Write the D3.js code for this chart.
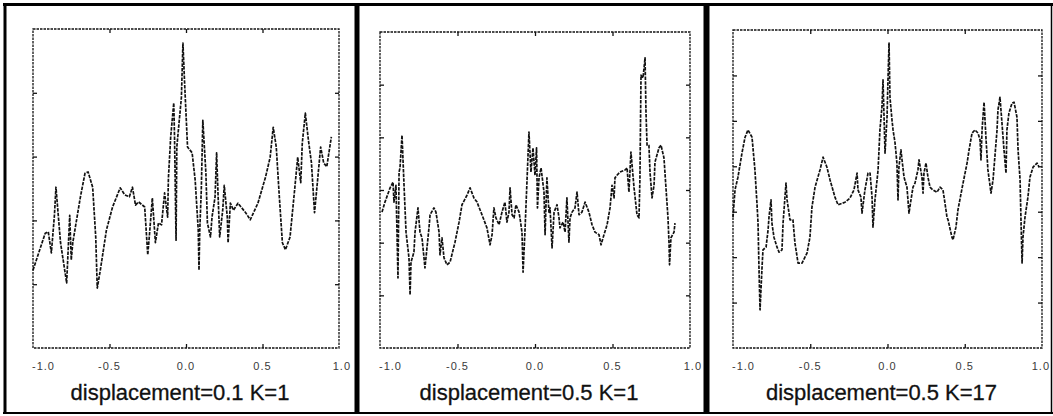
<!DOCTYPE html>
<html>
<head>
<meta charset="utf-8">
<script src="https://cdn.jsdelivr.net/npm/d3@7/dist/d3.min.js"></script>
<style>
  html, body { margin: 0; padding: 0; background: #fff; }
  svg { display: block; }
  .tick-label { font-family: "Liberation Sans", Arial, sans-serif; font-size: 11px; fill: #3a3a3a; letter-spacing: 1px; }
  .title { font-family: "Liberation Sans", Arial, sans-serif; font-size: 22px; fill: #111; stroke: #111; stroke-width: 0.3px; }
</style>
</head>
<body>
<svg id="chart" width="1053" height="416"></svg>
<script>
// Shared x axis: ticks and their labels
const xTicks = [-1, -0.5, 0, 0.5, 1];
const xTickLabels = ["-1.0", "-0.5", "0.0", "0.5", "1.0"];

// Panel titles
const titles = ["displacement=0.1 K=1", "displacement=0.5 K=1", "displacement=0.5 K=17"];

// Number of y intervals in each panel (unlabelled ticks)
const yMax = [5, 6, 7];

// Panel 1: displacement=0.1, K=1
const p1X = [-1.00,-0.92,-0.90,-0.88,-0.86,-0.85,-0.82,-0.78,-0.76,-0.75,-0.74,-0.69,-0.66,-0.64,-0.61,-0.59,-0.58,-0.56,-0.52,-0.48,
  -0.43,-0.40,-0.37,-0.35,-0.33,-0.31,-0.27,-0.25,-0.24,-0.22,-0.20,-0.18,-0.16,-0.14,-0.12,-0.115,-0.10,-0.08,-0.075,-0.065,
  -0.06,-0.03,-0.02,-0.01,0.01,0.04,0.06,0.08,0.085,0.09,0.10,0.11,0.13,0.14,0.16,0.17,0.19,0.20,0.21,0.22,
  0.24,0.25,0.27,0.275,0.29,0.31,0.34,0.39,0.42,0.47,0.52,0.55,0.57,0.59,0.61,0.63,0.65,0.68,0.71,0.73,
  0.75,0.76,0.78,0.80,0.82,0.84,0.86,0.88,0.90,0.92,0.95];
const p1Y = [1.22,1.80,1.82,1.49,2.08,2.52,1.65,1.02,2.08,1.38,1.65,2.37,2.74,2.76,2.52,1.74,0.94,1.22,1.85,2.21,
  2.51,2.40,2.37,2.52,2.24,2.29,2.21,1.46,1.74,2.35,1.65,1.96,1.93,2.43,2.05,2.66,3.31,3.84,3.31,1.69,
  3.15,3.93,4.78,4.20,3.15,3.06,2.63,1.85,1.22,1.85,2.48,3.57,2.74,1.96,1.74,2.05,2.37,3.06,2.37,1.74,
  2.16,2.55,2.05,1.65,2.27,2.16,2.27,2.12,2.01,2.27,2.68,2.99,3.46,3.15,2.37,1.65,1.54,1.74,2.48,2.99,
  2.59,3.21,3.68,3.26,2.90,2.12,2.63,3.15,2.90,2.84,3.31];

// Panel 2: displacement=0.5, K=1
const p2X = [-0.987,-0.968,-0.935,-0.916,-0.910,-0.897,-0.884,-0.877,-0.871,-0.858,-0.845,-0.832,-0.813,-0.806,-0.800,-0.781,-0.774,-0.755,-0.742,-0.729,
  -0.716,-0.710,-0.697,-0.684,-0.677,-0.652,-0.639,-0.619,-0.613,-0.600,-0.587,-0.568,-0.548,-0.516,-0.490,-0.471,-0.439,-0.419,-0.394,-0.374,
  -0.342,-0.310,-0.290,-0.277,-0.265,-0.252,-0.232,-0.213,-0.194,-0.181,-0.168,-0.161,-0.148,-0.135,-0.123,-0.103,-0.097,-0.084,-0.077,-0.065,
  -0.039,-0.026,-0.013,0.000,0.010,0.016,0.026,0.039,0.058,0.065,0.071,0.077,0.090,0.097,0.110,0.123,0.142,0.155,0.161,0.181,
  0.194,0.206,0.219,0.226,0.239,0.258,0.271,0.284,0.303,0.323,0.348,0.368,0.387,0.413,0.426,0.445,0.465,0.484,0.497,0.510,
  0.516,0.529,0.548,0.581,0.594,0.606,0.619,0.639,0.658,0.671,0.677,0.684,0.697,0.710,0.716,0.723,0.735,0.742,0.755,0.768,
  0.774,0.800,0.813,0.832,0.845,0.858,0.865,0.868,0.877,0.897,0.903];
const p2Y = [2.58,2.77,3.04,3.15,2.77,3.09,1.33,3.34,3.42,4.04,3.09,2.20,1.71,1.01,1.63,1.82,2.20,2.66,2.20,2.09,
  1.71,1.52,1.90,2.28,2.53,2.66,2.58,2.20,1.77,2.09,1.71,1.58,1.63,2.01,2.39,2.72,2.90,3.04,2.85,2.77,
  2.53,2.28,1.96,2.15,2.66,2.47,2.34,2.58,2.77,2.39,2.58,3.04,2.53,2.47,2.72,2.58,2.47,2.20,1.44,2.20,
  4.10,3.34,3.80,3.28,3.80,2.66,3.23,3.42,2.96,2.15,2.72,3.23,2.58,2.66,1.90,2.58,2.72,2.47,2.28,2.39,
  2.20,2.85,2.01,2.47,2.58,2.66,2.96,2.53,2.58,2.77,2.58,2.34,2.20,2.15,1.96,2.15,2.34,2.66,3.09,2.85,
  3.23,3.28,3.34,3.38,3.42,2.96,3.72,3.04,2.53,2.47,3.23,5.18,5.13,5.51,4.48,3.85,3.85,3.34,2.85,3.09,
  3.53,3.80,3.85,3.61,3.04,2.47,1.96,1.58,2.09,2.20,2.37];

// Panel 3: displacement=0.5, K=17
const p3X = [-1.000,-0.987,-0.968,-0.942,-0.922,-0.903,-0.877,-0.858,-0.845,-0.838,-0.832,-0.825,-0.812,-0.806,-0.786,-0.773,-0.767,-0.754,-0.748,-0.735,
  -0.715,-0.702,-0.683,-0.676,-0.657,-0.650,-0.631,-0.612,-0.599,-0.579,-0.553,-0.521,-0.502,-0.489,-0.469,-0.437,-0.417,-0.392,-0.372,-0.340,
  -0.320,-0.275,-0.243,-0.217,-0.197,-0.191,-0.172,-0.165,-0.146,-0.126,-0.113,-0.100,-0.094,-0.081,-0.061,-0.049,-0.036,-0.029,-0.016,-0.003,
  0.003,0.010,0.016,0.029,0.036,0.049,0.061,0.068,0.074,0.087,0.094,0.107,0.126,0.139,0.152,0.165,0.178,0.197,0.204,0.223,
  0.230,0.236,0.249,0.262,0.275,0.294,0.320,0.340,0.359,0.372,0.385,0.392,0.417,0.424,0.443,0.456,0.489,0.515,0.528,0.547,
  0.566,0.586,0.599,0.605,0.612,0.625,0.638,0.650,0.670,0.683,0.709,0.715,0.728,0.741,0.754,0.767,0.773,0.786,0.806,0.819,
  0.838,0.845,0.858,0.864,0.871,0.877,0.890,0.909,0.922,0.942,0.968,0.981];
const p3Y = [2.88,3.48,3.76,4.29,4.64,4.80,4.64,3.92,3.19,2.75,1.78,0.84,1.78,2.16,2.22,2.60,2.88,3.26,2.75,2.44,
  2.22,2.11,2.16,2.75,3.63,3.26,2.82,2.82,2.31,1.87,1.87,2.09,2.44,3.10,3.54,3.92,4.20,3.98,3.70,3.32,
  3.15,3.21,3.30,3.48,3.85,3.48,3.32,2.97,3.48,3.85,3.85,3.32,2.66,3.26,3.92,4.80,5.30,5.90,4.29,5.08,
  5.90,6.71,5.52,5.02,4.80,4.51,4.07,3.26,3.98,4.36,4.14,3.76,3.54,2.97,3.26,3.54,3.63,3.92,4.14,3.76,
  3.41,3.85,4.07,3.76,3.54,3.48,3.43,3.54,3.48,3.19,2.88,2.82,2.44,2.38,2.66,3.04,3.63,4.07,4.36,4.73,
  4.80,4.73,4.58,4.14,4.80,5.41,4.58,3.92,3.41,3.70,4.80,5.24,5.52,4.95,4.36,3.85,4.80,5.17,5.39,5.41,
  5.08,4.36,3.70,2.82,1.87,2.44,2.88,3.32,3.76,3.98,4.07,3.98];

const seriesX = [p1X, p2X, p3X];
const seriesY = [p1Y, p2Y, p3Y];

// Layout of the three plot areas and their outer frames (pixels)
const layout = [
  { left: 33,  right: 339,  top: 29, bottom: 348, frameRight: 354 },
  { left: 380, right: 690,  top: 32, bottom: 348, frameRight: 703 },
  { left: 733, right: 1042, top: 30, bottom: 348, frameRight: 1050 }
];

const svg = d3.select("#chart");

// Outer panel frames
const frame = svg.append("g").attr("stroke", "#000").attr("fill", "none");
frame.append("line").attr("x1", 3).attr("x2", 1053).attr("y1", 4.5).attr("y2", 4.5).attr("stroke-width", 3);
frame.append("line").attr("x1", 3).attr("x2", 1053).attr("y1", 413).attr("y2", 413).attr("stroke-width", 2);
frame.append("line").attr("x1", 5).attr("x2", 5).attr("y1", 3).attr("y2", 414).attr("stroke-width", 3);
frame.append("line").attr("x1", 357).attr("x2", 357).attr("y1", 3).attr("y2", 414).attr("stroke-width", 5);
frame.append("line").attr("x1", 706.5).attr("x2", 706.5).attr("y1", 3).attr("y2", 414).attr("stroke-width", 6);
frame.append("line").attr("x1", 1051.5).attr("x2", 1051.5).attr("y1", 3).attr("y2", 414).attr("stroke-width", 1.5);

layout.forEach((L, i) => {
  const g = svg.append("g");
  const x = d3.scaleLinear().domain([-1, 1]).range([L.left, L.right]);
  const y = d3.scaleLinear().domain([0, yMax[i]]).range([L.bottom, L.top]);
  const yTickVals = d3.range(1, yMax[i]);
  const innerX = xTicks.slice(1, -1);

  // Plot box
  g.append("rect")
    .attr("x", L.left).attr("y", L.top)
    .attr("width", L.right - L.left).attr("height", L.bottom - L.top)
    .attr("fill", "none").attr("stroke", "#111").attr("stroke-width", 1.3)
    .attr("stroke-dasharray", "2.5,1");

  // Inward ticks on all four sides
  const axes = [
    { ax: d3.axisLeft(y).tickValues(yTickVals), tr: `translate(${L.left},0)` },
    { ax: d3.axisRight(y).tickValues(yTickVals), tr: `translate(${L.right},0)` },
    { ax: d3.axisBottom(x).tickValues(innerX), tr: `translate(0,${L.bottom})` },
    { ax: d3.axisTop(x).tickValues(innerX), tr: `translate(0,${L.top})` }
  ];
  axes.forEach(a => {
    const ag = g.append("g").attr("transform", a.tr)
      .call(a.ax.tickSize(-4).tickFormat(""));
    ag.select(".domain").remove();
    ag.selectAll(".tick line").attr("stroke", "#111").attr("stroke-width", 1.3);
  });

  // x tick labels: end labels sit just inside/right of the box edges
  const last = xTicks.length - 1;
  g.selectAll("text.tick-label")
    .data(xTicks)
    .join("text")
    .attr("class", "tick-label")
    .attr("x", (d, k) => k === 0 ? x(d) - 1 : k === last ? Math.min(x(d) + 12, L.frameRight) : x(d))
    .attr("y", 370)
    .attr("text-anchor", (d, k) => k === 0 ? "start" : k === last ? "end" : "middle")
    .text((d, k) => xTickLabels[k]);

  // Series line
  const pts = seriesX[i].map((v, k) => [v, seriesY[i][k]]);
  const line = d3.line().x(d => x(d[0])).y(d => y(d[1]));
  g.append("path")
    .attr("d", line(pts))
    .attr("fill", "none")
    .attr("stroke", "#111")
    .attr("stroke-width", 1.7)
    .attr("stroke-linejoin", "round")
    .attr("stroke-dasharray", "3.5,1.2");

  // Title
  g.append("text")
    .attr("class", "title")
    .attr("x", (L.left + L.right) / 2 - 6)
    .attr("y", 400)
    .attr("text-anchor", "middle")
    .text(titles[i]);
});
</script>
</body>
</html>
